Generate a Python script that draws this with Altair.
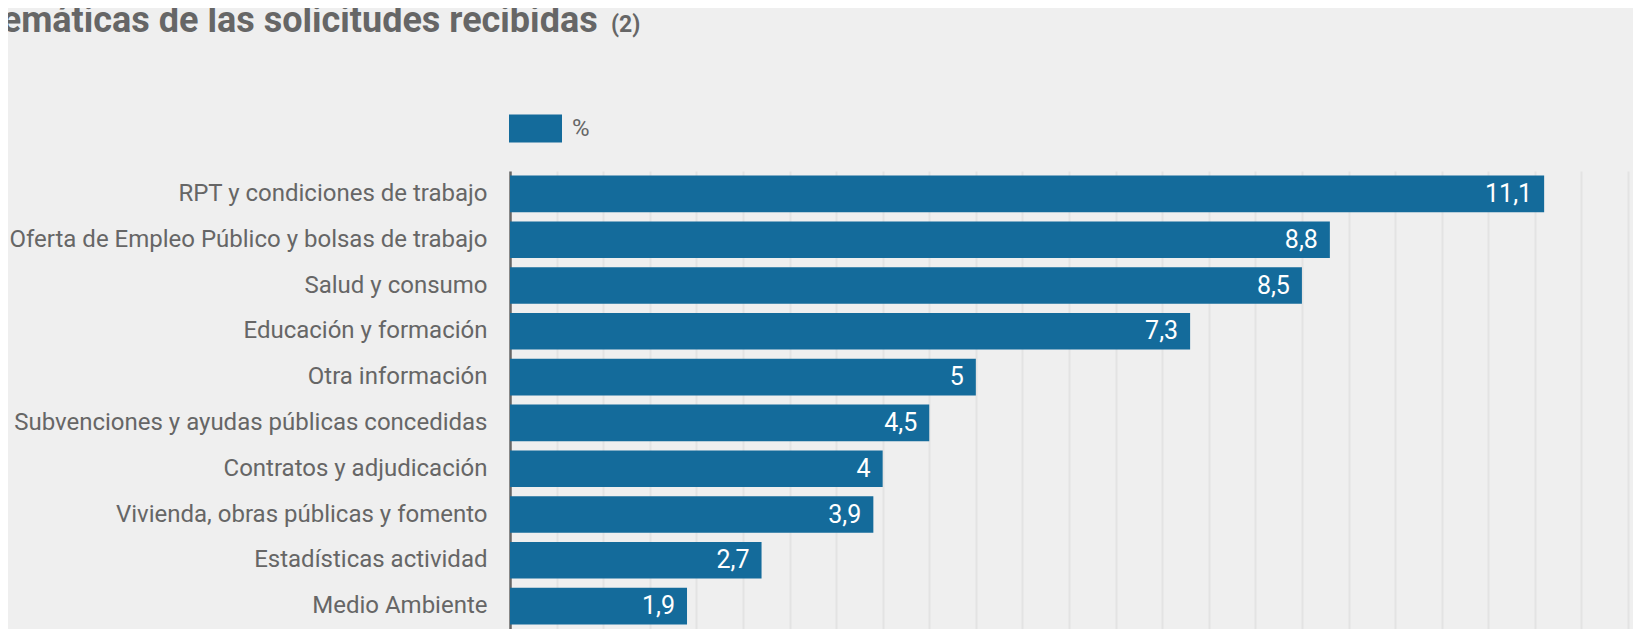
import altair as alt
import pandas as pd

categories = [
    "RPT y condiciones de trabajo",
    "Oferta de Empleo Público y bolsas de trabajo",
    "Salud y consumo",
    "Educación y formación",
    "Otra información",
    "Subvenciones y ayudas públicas concedidas",
    "Contratos y adjudicación",
    "Vivienda, obras públicas y fomento",
    "Estadísticas actividad",
    "Medio Ambiente",
]
values = [11.1, 8.8, 8.5, 7.3, 5, 4.5, 4, 3.9, 2.7, 1.9]
series_name = "%"
title_text = "Temáticas de las solicitudes recibidas"
title_note = "(2)"
grid_ticks = [i * 0.5 for i in range(25)]

df = pd.DataFrame({"cat": categories, "val": values, "serie": [series_name] * len(values)})

BAR = "#146b9b"
GREY = "#666666"
FONT = "Roboto"

base = alt.Chart(df).transform_calculate(
    lab="replace(toString(datum.val), '.', ',')"
)

y_enc = alt.Y(
    "cat:N",
    sort=categories,
    title=None,
    scale=alt.Scale(paddingInner=0.2, paddingOuter=0.1),
    axis=alt.Axis(
        ticks=False,
        domainColor=GREY,
        domainWidth=2.5,
        labelColor=GREY,
        labelFont=FONT,
        labelFontSize=24,
        labelPadding=23,
        labelLimit=1000,
        grid=False,
    ),
)

x_enc = alt.X(
    "val:Q",
    title=None,
    scale=alt.Scale(domain=[0, 12], nice=False),
    axis=alt.Axis(
        values=grid_ticks,
        labels=False,
        ticks=False,
        domain=False,
        grid=True,
        gridColor="#e3e3e3",
        gridWidth=2,
    ),
)

bars = base.mark_bar().encode(
    x=x_enc,
    y=y_enc,
    color=alt.Color(
        "serie:N",
        scale=alt.Scale(range=[BAR]),
        legend=alt.Legend(
            title=None,
            orient="none",
            legendX=-1,
            legendY=-69,
            symbolType="M-1,-0.53H1V0.53H-1Z",
            symbolSize=2809,
            symbolStrokeWidth=0,
            symbolOpacity=1,
            labelFont=FONT,
            labelFontSize=24,
            labelColor=GREY,
            labelOffset=10,
            padding=0,
        ),
    ),
)

texts = base.mark_text(
    align="right", baseline="middle", dx=-12, color="white", font=FONT, fontSize=25
).encode(
    x=alt.X("val:Q"),
    y=alt.Y("cat:N", sort=categories),
    text="lab:N",
)

title_df = pd.DataFrame({"t": [title_text]})
note_df = pd.DataFrame({"t": [title_note]})

title_mark = alt.Chart(title_df).mark_text(
    align="left", baseline="alphabetic", font=FONT, fontSize=36, fontWeight="bold", color=GREY
).encode(x=alt.value(-529), y=alt.value(-139), text="t:N")

note = alt.Chart(note_df).mark_text(
    align="left", baseline="alphabetic", font=FONT, fontSize=23, fontWeight="bold", color=GREY
).encode(x=alt.value(101), y=alt.value(-139), text="t:N")

chart = (
    alt.layer(bars, texts, title_mark, note)
    .properties(
        width=1118,
        height=458,
        background="#efefef",
        padding={"left": 502, "top": 163, "right": 5, "bottom": 0},
        autosize=alt.AutoSizeParams(type="none"),
    )
    .configure_view(stroke=None)
)

chart.save("out.html", embed_options={"renderer": "svg", "actions": False})
